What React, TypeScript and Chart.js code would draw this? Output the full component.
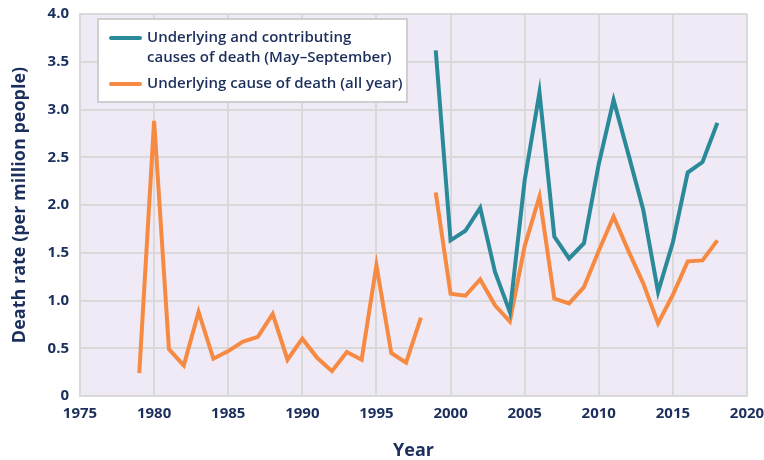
import React, { useEffect, useRef } from "react";
import { Chart, registerables } from "chart.js";

Chart.register(...registerables);

const tealYears = [1999, 2000, 2001, 2002, 2003, 2004, 2005, 2006, 2007, 2008, 2009, 2010, 2011, 2012, 2013, 2014, 2015, 2016, 2017, 2018];
const tealValues = [3.62, 1.63, 1.73, 1.97, 1.3, 0.88, 2.26, 3.18, 1.67, 1.44, 1.6, 2.43, 3.1, 2.53, 1.95, 1.09, 1.61, 2.34, 2.45, 2.86];

const orangeEarlyYears = [1979, 1980, 1981, 1982, 1983, 1984, 1985, 1986, 1987, 1988, 1989, 1990, 1991, 1992, 1993, 1994, 1995, 1996, 1997, 1998];
const orangeEarlyValues = [0.24, 2.88, 0.49, 0.32, 0.88, 0.39, 0.47, 0.57, 0.62, 0.86, 0.38, 0.6, 0.4, 0.26, 0.46, 0.38, 1.37, 0.45, 0.35, 0.82];

const orangeLateYears = [1999, 2000, 2001, 2002, 2003, 2004, 2005, 2006, 2007, 2008, 2009, 2010, 2011, 2012, 2013, 2014, 2015, 2016, 2017, 2018];
const orangeLateValues = [2.13, 1.07, 1.05, 1.22, 0.95, 0.78, 1.57, 2.09, 1.02, 0.97, 1.14, 1.52, 1.88, 1.52, 1.18, 0.76, 1.06, 1.41, 1.42, 1.63];

const legendLabels: string[][] = [
  ["Underlying and contributing", "causes of death (May\u2013September)"],
  ["Underlying cause of death (all year)"],
];

const xTitle = "Year";
const yTitle = "Death rate (per million people)";

const TEAL = "#2b8a99";
const ORANGE = "#f68a42";
const TEXT = "#1c2f5c";
const GRID = "#d9d9d9";
const FONT = "'Open Sans', 'Noto Sans', sans-serif";

const toPoints = (xs: number[], ys: number[]) => xs.map((x, i) => ({ x, y: ys[i] }));

const bgPlugin = {
  id: "plotBg",
  beforeDraw(chart: any) {
    const { ctx, chartArea } = chart;
    ctx.save();
    ctx.fillStyle = "#efeaf5";
    ctx.fillRect(chartArea.left, chartArea.top, chartArea.right - chartArea.left, chartArea.bottom - chartArea.top);
    ctx.restore();
  },
};

const legendPlugin = {
  id: "customLegend",
  afterDatasetsDraw(chart: any) {
    const { ctx } = chart;
    ctx.save();
    ctx.fillStyle = "#ffffff";
    ctx.fillRect(98, 19, 309, 83);
    ctx.strokeStyle = "#cfcfcf";
    ctx.lineWidth = 2;
    ctx.strokeRect(98, 19, 309, 83);
    ctx.font = `600 15px ${FONT}`;
    ctx.fillStyle = TEXT;
    ctx.textBaseline = "middle";
    ctx.textAlign = "left";
    const colors = [TEAL, ORANGE];
    const starts = [38, 84];
    legendLabels.forEach((lines, i) => {
      ctx.strokeStyle = colors[i];
      ctx.lineWidth = 4;
      ctx.lineCap = "round";
      ctx.beginPath();
      ctx.moveTo(111, starts[i]);
      ctx.lineTo(140, starts[i]);
      ctx.stroke();
      lines.forEach((t, j) => {
        ctx.fillText(t, 147, starts[i] + j * 20);
      });
    });
    ctx.restore();
  },
};

export default function App() {
  const ref = useRef<HTMLCanvasElement | null>(null);
  useEffect(() => {
    document.body.style.margin = "0";
    if (!ref.current) return;
    const lineStyle = { borderWidth: 4, pointRadius: 0, tension: 0, fill: false };
    const chart = new Chart(ref.current, {
      type: "line",
      data: {
        datasets: [
          { label: "teal", data: toPoints(tealYears, tealValues), borderColor: TEAL, ...lineStyle },
          { label: "orange1", data: toPoints(orangeEarlyYears, orangeEarlyValues), borderColor: ORANGE, ...lineStyle },
          { label: "orange2", data: toPoints(orangeLateYears, orangeLateValues), borderColor: ORANGE, ...lineStyle },
        ],
      },
      options: {
        animation: false,
        responsive: false,
        layout: { padding: { top: 14, right: 17, left: 0, bottom: 0 } },
        plugins: { legend: { display: false }, tooltip: { enabled: false } },
        scales: {
          x: {
            type: "linear",
            min: 1975,
            max: 2020,
            ticks: { stepSize: 5, color: TEXT, font: { family: FONT, size: 15, weight: "bold" }, padding: 9, callback: (v: any) => String(v) },
            grid: { color: GRID, lineWidth: 2, drawTicks: false },
            border: { color: GRID, width: 2 },
            title: { display: true, text: xTitle, color: TEXT, font: { family: FONT, size: 18, weight: "bold", lineHeight: 1 }, padding: { top: 0, bottom: 0 } },
            afterFit: (s: any) => { s.height = 64; s.paddingLeft = 0; s.paddingRight = 0; },
          },
          y: {
            min: 0,
            max: 4,
            ticks: { stepSize: 0.5, color: TEXT, font: { family: FONT, size: 15, weight: "bold" }, padding: 11, callback: (v: any) => (v === 0 ? "0" : Number(v).toFixed(1)) },
            grid: { color: GRID, lineWidth: 2, drawTicks: false },
            border: { color: GRID, width: 2 },
            title: { display: true, text: yTitle, color: TEXT, font: { family: FONT, size: 18, weight: "bold", lineHeight: 1.2 }, padding: { top: 9, bottom: 0 } },
            afterFit: (s: any) => { s.width = 80; s.paddingTop = 0; s.paddingBottom = 0; },
          },
        },
      },
      plugins: [bgPlugin, legendPlugin],
    } as any);
    return () => chart.destroy();
  }, []);
  return (
    <div style={{ width: 764, height: 460 }}>
      <canvas ref={ref} width={764} height={460} style={{ width: 764, height: 460, display: "block" }} />
    </div>
  );
}
